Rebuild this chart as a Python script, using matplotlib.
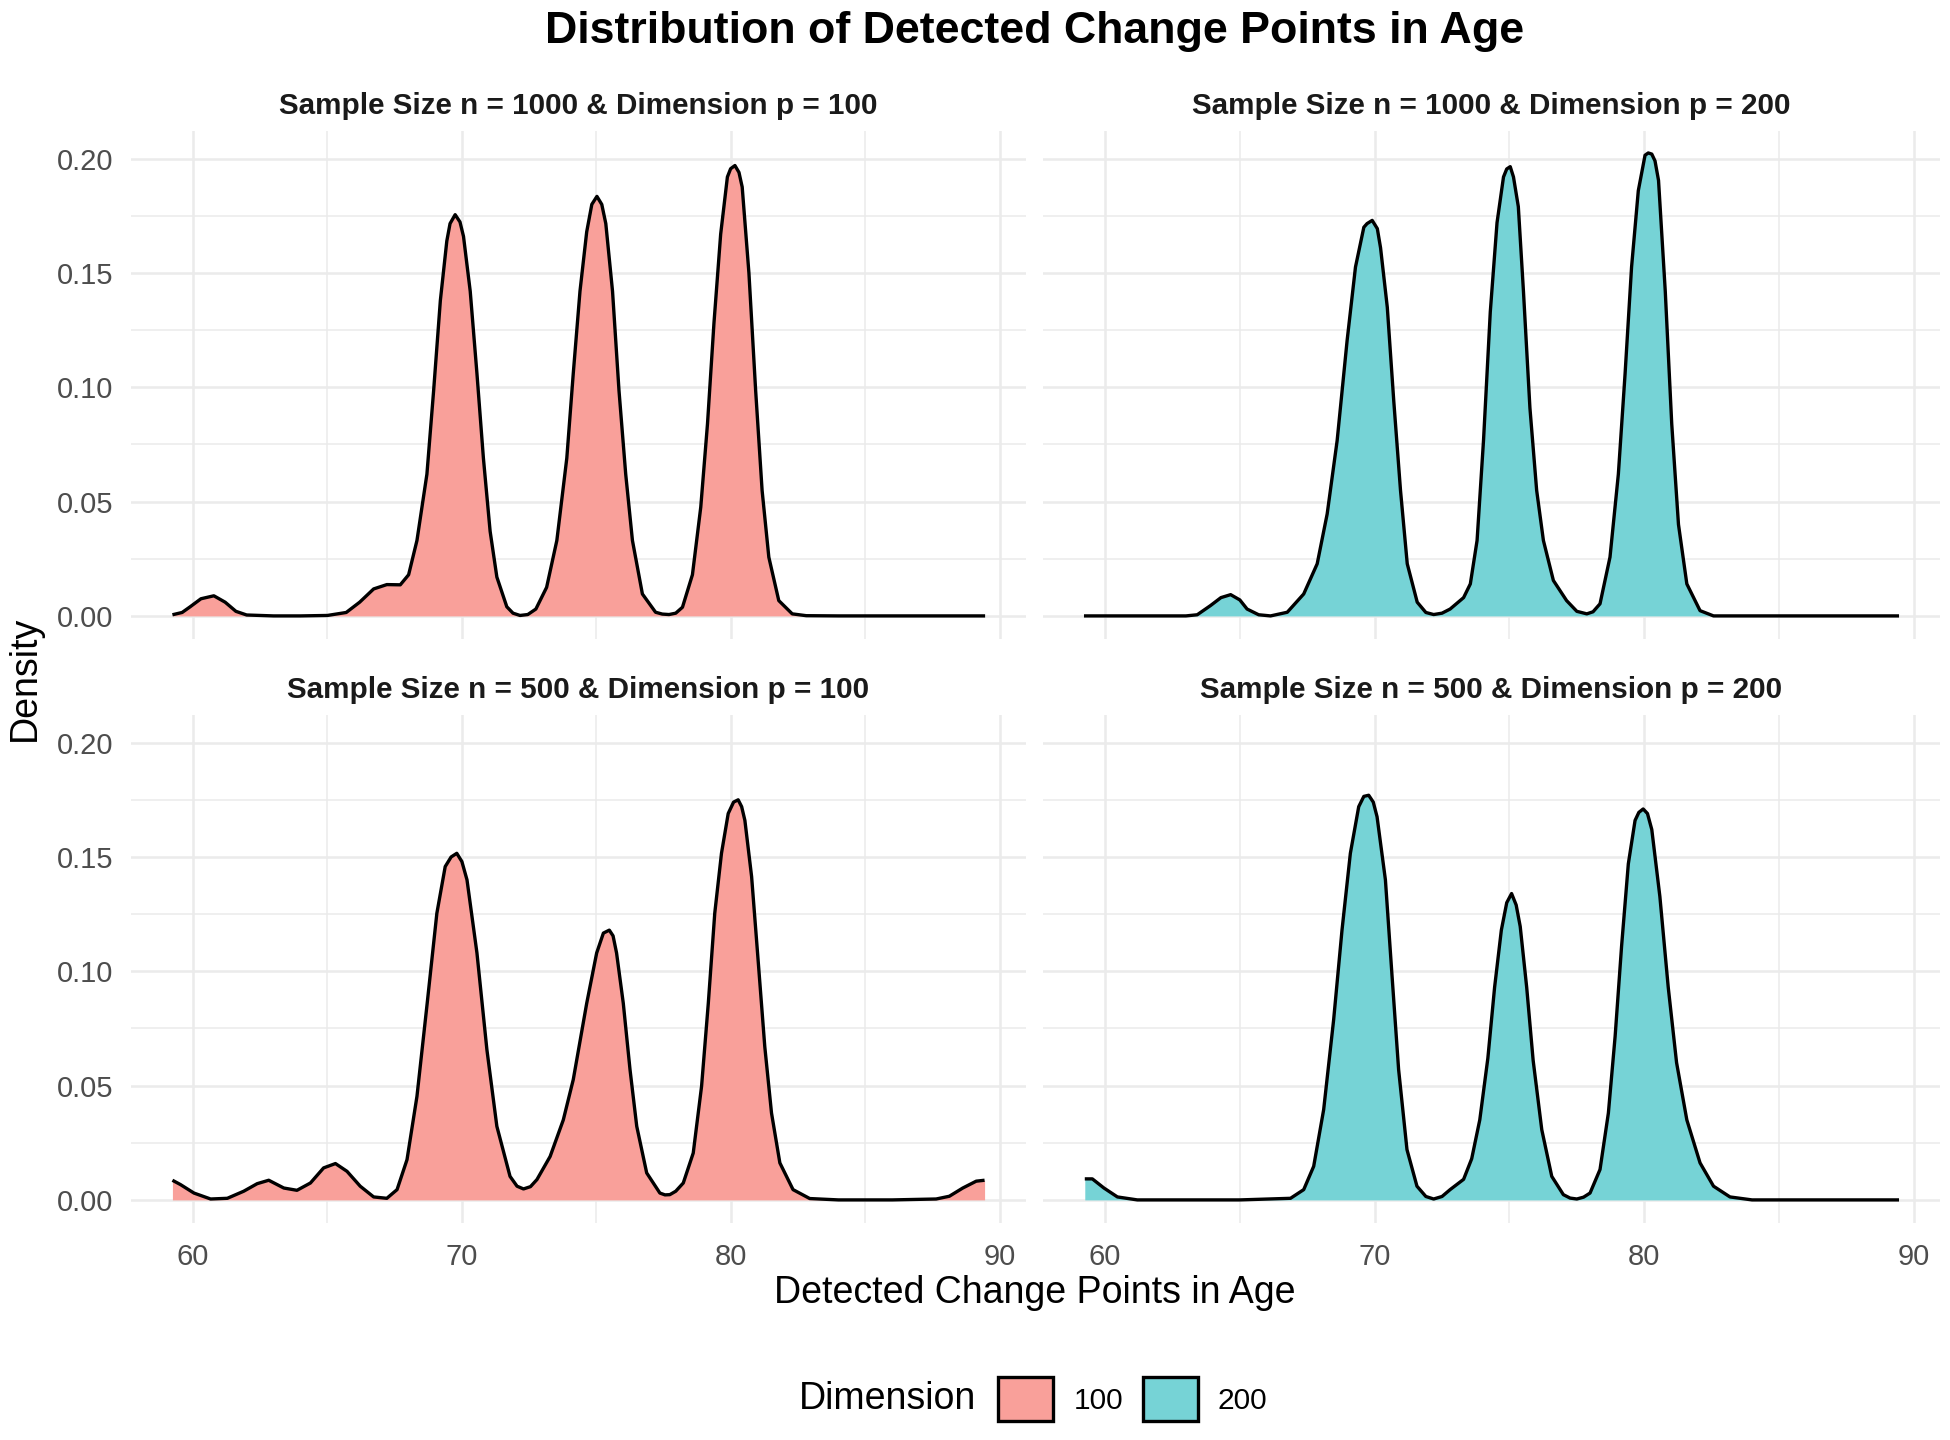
import matplotlib
matplotlib.use("Agg")
import matplotlib.pyplot as plt
from matplotlib.patches import Patch

plt.rcParams['font.family'] = ['Liberation Sans', 'DejaVu Sans']

# density curves (x = age, y = density)
tl_x = [59.24, 59.6, 59.9, 60.3, 60.78, 61.2, 61.6, 62.0, 63.0, 64.0,
        65.0, 65.7, 66.2, 66.72, 67.21, 67.71, 68.02, 68.33, 68.7, 68.95,
        69.2, 69.44, 69.56, 69.75, 69.93, 70.06, 70.31, 70.56, 70.8, 71.05,
        71.3, 71.67, 71.9, 72.16, 72.45, 72.75, 73.15, 73.53, 73.9, 74.14,
        74.39, 74.64, 74.83, 75.02, 75.2, 75.35, 75.6, 75.84, 76.09, 76.34,
        76.71, 77.2, 77.45, 77.7, 77.95, 78.2, 78.57, 78.88, 79.13, 79.37,
        79.62, 79.87, 79.99, 80.15, 80.3, 80.42, 80.67, 80.92, 81.16, 81.41,
        81.78, 82.28, 82.8, 84.0, 86.0, 88.0, 89.45]
tl_y = [0.0005, 0.0015, 0.004, 0.0075, 0.0088, 0.006, 0.002, 0.0004, 0.0, 0.0,
        0.0002, 0.0015, 0.006, 0.0118, 0.0137, 0.0136, 0.018, 0.033, 0.062, 0.0986,
        0.138, 0.164, 0.1716, 0.1755, 0.1723, 0.166, 0.142, 0.106, 0.069, 0.037,
        0.017, 0.004, 0.0012, 0.0002, 0.0006, 0.003, 0.0125, 0.033, 0.069, 0.106,
        0.142, 0.168, 0.180, 0.1835, 0.180, 0.1716, 0.142, 0.0986, 0.062, 0.033,
        0.0096, 0.0016, 0.0008, 0.0006, 0.0012, 0.0038, 0.018, 0.0476, 0.084, 0.128,
        0.167, 0.192, 0.1956, 0.197, 0.194, 0.1876, 0.150, 0.0986, 0.0549, 0.0257,
        0.0067, 0.0009, 0.0001, 0.0, 0.0, 0.0, 0.0]

tr_x = [59.22, 61.0, 63.0, 63.42, 63.91, 64.3, 64.66, 65.0, 65.27, 65.7,
        66.14, 66.76, 67.37, 67.87, 68.24, 68.61, 68.98, 69.29, 69.6, 69.72,
        69.91, 70.1, 70.22, 70.47, 70.71, 70.96, 71.21, 71.58, 71.9, 72.19,
        72.5, 72.8, 73.3, 73.55, 73.8, 74.04, 74.29, 74.54, 74.78, 74.9,
        75.03, 75.15, 75.33, 75.52, 75.76, 76.01, 76.26, 76.63, 77.12, 77.5,
        77.87, 78.1, 78.36, 78.73, 79.04, 79.29, 79.53, 79.78, 80.03, 80.15,
        80.28, 80.4, 80.53, 80.78, 81.02, 81.27, 81.58, 82.07, 82.57, 84.0,
        86.0, 88.0, 89.45]
tr_y = [0.0, 0.0, 0.0, 0.0005, 0.0045, 0.008, 0.0093, 0.007, 0.003, 0.0005,
        0.0, 0.0016, 0.0096, 0.0228, 0.0446, 0.0767, 0.1205, 0.1526, 0.170, 0.1716,
        0.173, 0.1694, 0.161, 0.135, 0.094, 0.0549, 0.0228, 0.006, 0.0015, 0.0006,
        0.0012, 0.003, 0.008, 0.014, 0.033, 0.077, 0.133, 0.172, 0.192, 0.1955,
        0.1965, 0.192, 0.179, 0.142, 0.091, 0.0549, 0.033, 0.0155, 0.0067, 0.002,
        0.0009, 0.0018, 0.0053, 0.0257, 0.062, 0.106, 0.1526, 0.186, 0.2015, 0.2025,
        0.202, 0.199, 0.1905, 0.142, 0.084, 0.040, 0.014, 0.0023, 0.0, 0.0,
        0.0, 0.0, 0.0]

bl_x = [59.24, 59.54, 60.04, 60.66, 61.28, 61.89, 62.39, 62.82, 63.38, 63.87,
        64.37, 64.86, 65.3, 65.73, 66.22, 66.72, 67.21, 67.59, 67.96, 68.33,
        68.71, 69.07, 69.38, 69.6, 69.81, 70.0, 70.19, 70.56, 70.93, 71.3,
        71.79, 72.05, 72.29, 72.55, 72.79, 73.28, 73.77, 74.14, 74.64, 75.01,
        75.26, 75.48, 75.62, 75.75, 76.0, 76.25, 76.5, 76.87, 77.36, 77.55,
        77.73, 77.95, 78.23, 78.6, 78.91, 79.16, 79.4, 79.65, 79.9, 80.1,
        80.27, 80.4, 80.52, 80.77, 81.02, 81.26, 81.51, 81.82, 82.31, 82.93,
        84.0, 86.0, 87.63, 88.12, 88.62, 89.12, 89.43]
bl_y = [0.0086, 0.0067, 0.003, 0.0004, 0.0007, 0.0038, 0.0071, 0.0086, 0.0052, 0.0042,
        0.0074, 0.014, 0.0159, 0.0125, 0.006, 0.0013, 0.0007, 0.0045, 0.0176, 0.0453,
        0.086, 0.1254, 0.1458, 0.150, 0.1516, 0.148, 0.140, 0.108, 0.0657, 0.0322,
        0.0103, 0.006, 0.0048, 0.0058, 0.0089, 0.019, 0.035, 0.0526, 0.086, 0.108,
        0.1167, 0.118, 0.1155, 0.108, 0.086, 0.057, 0.0322, 0.0118, 0.003, 0.0022,
        0.0023, 0.0038, 0.0074, 0.0205, 0.0497, 0.086, 0.1254, 0.1516, 0.169, 0.174,
        0.175, 0.172, 0.166, 0.1414, 0.1036, 0.067, 0.038, 0.0162, 0.0045, 0.0006,
        0.0, 0.0, 0.0004, 0.0016, 0.0052, 0.0082, 0.0086]

br_x = [59.25, 59.53, 59.96, 60.46, 61.2, 63.0, 65.0, 66.88, 67.37, 67.74,
        68.11, 68.48, 68.79, 69.1, 69.41, 69.6, 69.78, 69.95, 70.09, 70.4,
        70.64, 70.89, 71.2, 71.57, 71.9, 72.19, 72.5, 72.8, 73.3, 73.6,
        73.9, 74.2, 74.45, 74.7, 74.9, 75.08, 75.25, 75.4, 75.64, 75.88,
        76.2, 76.57, 77.0, 77.25, 77.5, 77.75, 77.99, 78.36, 78.67, 78.92,
        79.16, 79.41, 79.66, 79.8, 79.96, 80.12, 80.28, 80.58, 80.89, 81.2,
        81.58, 82.07, 82.57, 83.18, 84.0, 86.0, 88.0, 89.45]
br_y = [0.0092, 0.0092, 0.0052, 0.0013, 0.0, 0.0, 0.0, 0.0007, 0.0045, 0.0147,
        0.0395, 0.0788, 0.118, 0.1516, 0.172, 0.1765, 0.177, 0.174, 0.1676, 0.140,
        0.099, 0.057, 0.022, 0.006, 0.0015, 0.0004, 0.0015, 0.0045, 0.009, 0.018,
        0.035, 0.062, 0.093, 0.118, 0.130, 0.134, 0.129, 0.1196, 0.093, 0.061,
        0.0307, 0.0103, 0.0023, 0.0008, 0.0004, 0.0012, 0.003, 0.0133, 0.038, 0.0715,
        0.111, 0.147, 0.166, 0.1695, 0.171, 0.169, 0.162, 0.1327, 0.093, 0.060,
        0.035, 0.0162, 0.006, 0.0013, 0.0, 0.0, 0.0, 0.0]

strip_titles = ["Sample Size n = 1000 & Dimension p = 100",
                "Sample Size n = 1000 & Dimension p = 200",
                "Sample Size n = 500 & Dimension p = 100",
                "Sample Size n = 500 & Dimension p = 200"]
dims = ["100", "200", "100", "200"]
fill_colors = {"100": "#F9A09A", "200": "#76D3D6"}

curves = [(tl_x, tl_y), (tr_x, tr_y), (bl_x, bl_y), (br_x, br_y)]

W, H = 1950, 1440
fig = plt.figure(figsize=(W / 100, H / 100), dpi=100)

# panel boxes in pixels: left, top, right, bottom
boxes = [(131, 131, 1026, 639), (1043, 131, 1940, 639),
         (131, 715, 1026, 1223), (1043, 715, 1940, 1223)]
grid_col = "#EBEBEB"
tick_col = "#4D4D4D"

for i, (box, (xs, ys)) in enumerate(zip(boxes, curves)):
    l, t, r, b = box
    ax = fig.add_axes([l / W, 1 - b / H, (r - l) / W, (b - t) / H])
    ax.fill_between(xs, ys, 0, color=fill_colors[dims[i]], lw=0, zorder=2)
    ax.plot(xs, ys, color="black", lw=2.4, zorder=3,
            solid_capstyle="butt", solid_joinstyle="round")
    ax.set_xlim(57.7, 90.97)
    ax.set_ylim(-0.0101, 0.2121)
    ax.set_xticks([60, 70, 80, 90])
    ax.set_xticks([65, 75, 85], minor=True)
    ax.set_yticks([0, 0.05, 0.10, 0.15, 0.20])
    ax.set_yticks([0.025, 0.075, 0.125, 0.175], minor=True)
    ax.grid(which="major", color=grid_col, lw=1.8, zorder=0)
    ax.grid(which="minor", color=grid_col, lw=1.1, zorder=0)
    ax.set_axisbelow(True)
    for s in ax.spines.values():
        s.set_visible(False)
    ax.tick_params(which="both", length=0, labelsize=21, labelcolor=tick_col)
    ax.tick_params(axis="x", pad=14.5)
    ax.tick_params(axis="y", pad=13)
    if i % 2 == 1:
        ax.set_yticklabels([])
    else:
        ax.set_yticklabels(["0.00", "0.05", "0.10", "0.15", "0.20"])
    if i < 2:
        ax.set_xticklabels([])
    fig.text((l + r) / 2 / W, 1 - (t - 25.5) / H, strip_titles[i], ha="center",
             va="center", fontsize=21.3, fontweight="bold", color="#1A1A1A")

fig.text(1035 / W, 1 - 31 / H, "Distribution of Detected Change Points in Age",
         ha="center", va="center", fontsize=32.2, fontweight="bold")
fig.text(1035 / W, 1 - 1293 / H, "Detected Change Points in Age",
         ha="center", va="center", fontsize=27)
fig.text(25 / W, 1 - 678 / H, "Density", ha="center", va="center",
         rotation=90, fontsize=27)

# legend at the bottom
fig.text(976 / W, 1 - 1399 / H, "Dimension", ha="right", va="center", fontsize=27)
handles = [Patch(facecolor=fill_colors[d], edgecolor="black", lw=2.4) for d in ["100", "200"]]
fig.legend(handles, ["100", "200"], ncol=2, loc="center",
           bbox_to_anchor=(1133 / W, 1 - 1399 / H), frameon=False, fontsize=21.5,
           handlelength=1.84, handleheight=1.84, handletextpad=0.67,
           columnspacing=0.67, borderpad=0)

fig.savefig("out.png", dpi=100, facecolor="white")
